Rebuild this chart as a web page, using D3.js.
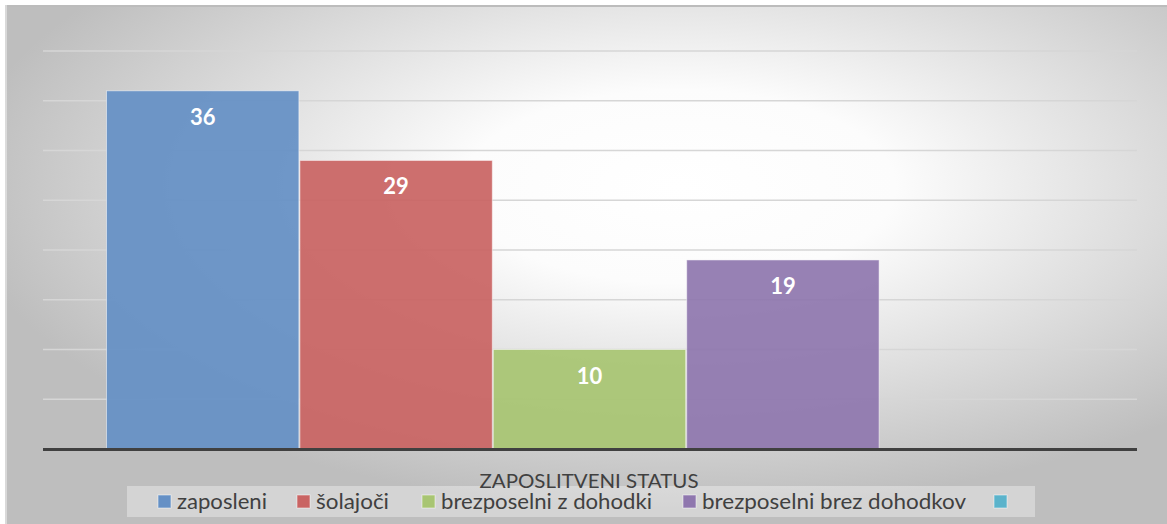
<!DOCTYPE html>
<html>
<head>
<meta charset="utf-8">
<script src="https://cdn.jsdelivr.net/npm/d3@7"></script>
<style>
  body { margin: 0; background: #fff; }
  svg { display: block; }
</style>
</head>
<body>
<div id="chart"></div>
<script>
// data
const seriesNames = ["zaposleni", "šolajoči", "brezposelni z dohodki", "brezposelni brez dohodkov", ""];
const seriesValues = [36, 29, 10, 19, null];
const seriesColors = ["#6590c5", "#c96463", "#a8c572", "#8f77ae", "#5bb3cb"];
const yTicks = [0, 5, 10, 15, 20, 25, 30, 35, 40];
const axisTitle = "ZAPOSLITVENI STATUS";

const svgWidth = 1167;
const svgHeight = 524;
const margin = { top: 51, right: 30, bottom: 75, left: 43 };
const width = svgWidth - margin.left - margin.right;
const height = 449 - margin.top;

const svg = d3.select("#chart").append("svg")
    .attr("width", svgWidth)
    .attr("height", svgHeight);

// background gradient
const defs = svg.append("defs");
const grad = defs.append("radialGradient")
    .attr("id", "bg")
    .attr("cx", 0.58).attr("cy", 0.35).attr("r", 0.62);
grad.append("stop").attr("offset", "0%").attr("stop-color", "#ffffff");
grad.append("stop").attr("offset", "30%").attr("stop-color", "#fcfcfc");
grad.append("stop").attr("offset", "100%").attr("stop-color", "#bebebe");

svg.append("rect")
    .attr("x", 5).attr("y", 5)
    .attr("width", svgWidth - 5).attr("height", svgHeight - 5)
    .attr("fill", "url(#bg)");
svg.append("line")
    .attr("x1", 5).attr("x2", svgWidth).attr("y1", 6).attr("y2", 6)
    .attr("stroke", "#bcbcbc").attr("stroke-width", 2);
svg.append("line")
    .attr("x1", 6).attr("x2", 6).attr("y1", 5).attr("y2", svgHeight)
    .attr("stroke", "#f4f4f4").attr("stroke-width", 1);

const chartGroup = svg.append("g")
    .attr("transform", `translate(${margin.left}, ${margin.top})`);

// scales
const yScale = d3.scaleLinear().domain([0, 40]).range([height, 0]);
const xScale = d3.scaleBand()
    .domain(seriesNames.map((d, i) => i))
    .range([63, width - 64])
    .paddingInner(0);

// gridlines
chartGroup.append("g")
    .selectAll("line")
    .data(yTicks.filter(d => d > 0))
    .enter()
    .append("line")
    .attr("x1", 0).attr("x2", width)
    .attr("y1", d => yScale(d)).attr("y2", d => yScale(d))
    .attr("stroke", "#d6d6d6")
    .attr("stroke-width", 1.5);

// bars
const bars = seriesValues.map((v, i) => ({ v, i })).filter(d => d.v !== null);
chartGroup.selectAll(".bar")
    .data(bars)
    .enter()
    .append("rect")
    .attr("class", "bar")
    .attr("x", d => xScale(d.i) + 0.5)
    .attr("y", d => yScale(d.v))
    .attr("width", xScale.bandwidth() - 1)
    .attr("height", d => height - yScale(d.v))
    .attr("fill", d => seriesColors[d.i])
    .attr("fill-opacity", 0.93)
    .attr("stroke", "#ffffff")
    .attr("stroke-opacity", 0.5)
    .attr("stroke-width", 1);

// data labels
chartGroup.selectAll(".lbl")
    .data(bars)
    .enter()
    .append("text")
    .attr("x", d => xScale(d.i) + xScale.bandwidth() / 2)
    .attr("y", d => yScale(d.v) + 34)
    .attr("text-anchor", "middle")
    .attr("fill", "#ffffff")
    .style("font-family", "Lato, 'Open Sans', sans-serif")
    .style("font-weight", "bold")
    .style("font-size", "22px")
    .text(d => d.v);

// x axis line
chartGroup.append("line")
    .attr("x1", 0).attr("x2", width)
    .attr("y1", height + 0.5).attr("y2", height + 0.5)
    .attr("stroke", "#404040")
    .attr("stroke-width", 3);

// legend
const legend = svg.append("g");
legend.append("rect")
    .attr("x", 127).attr("y", 486)
    .attr("width", 908).attr("height", 31)
    .attr("fill", "#ffffff")
    .attr("fill-opacity", 0.35);

const legendX = [158, 297, 422, 683, 994];
const legendLen = [90, 73, 211, 264, 0];
seriesNames.forEach((name, i) => {
    legend.append("rect")
        .attr("x", legendX[i]).attr("y", 495)
        .attr("width", 13).attr("height", 13)
        .attr("fill", seriesColors[i])
        .attr("stroke", "#ffffff")
        .attr("stroke-opacity", 0.5);
    if (name) {
        legend.append("text")
            .attr("x", legendX[i] + 19)
            .attr("y", 509)
            .attr("fill", "#404040")
            .attr("textLength", legendLen[i])
            .attr("lengthAdjust", "spacingAndGlyphs")
            .style("font-family", "Lato, 'Open Sans', sans-serif")
            .style("font-size", "21px")
            .text(name);
    }
});

// axis title
svg.append("text")
    .attr("x", 589)
    .attr("y", 488)
    .attr("text-anchor", "middle")
    .attr("fill", "#404040")
    .attr("textLength", 219)
    .attr("lengthAdjust", "spacingAndGlyphs")
    .style("font-family", "Lato, 'Open Sans', sans-serif")
    .style("font-size", "19px")
    .text(axisTitle);
</script>
</body>
</html>
